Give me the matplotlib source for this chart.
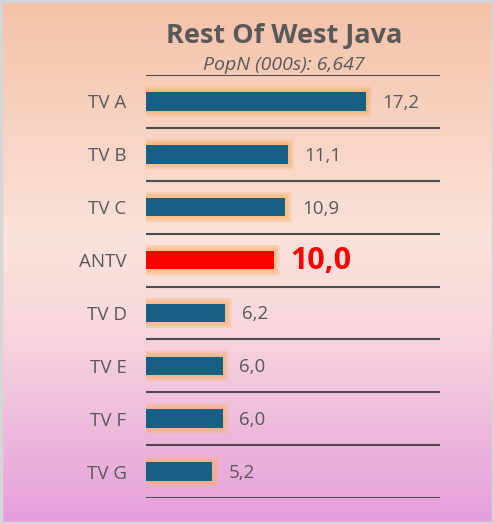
import numpy as np
import matplotlib.pyplot as plt
from matplotlib.colors import LinearSegmentedColormap
from matplotlib.patches import Rectangle

channels = ['TV A', 'TV B', 'TV C', 'ANTV', 'TV D', 'TV E', 'TV F', 'TV G']
values = [17.2, 11.1, 10.9, 10.0, 6.2, 6.0, 6.0, 5.2]
highlight = 'ANTV'
title = 'Rest Of West Java'
subtitle = 'PopN (000s): 6,647'

plt.rcParams['font.family'] = ['Open Sans', 'DejaVu Sans']

fig = plt.figure(figsize=(4.94, 5.24), dpi=100)

# gradient background
bg = fig.add_axes([0, 0, 1, 1], zorder=-10)
cmap = LinearSegmentedColormap.from_list(
    'bg', [(0.0, '#F4C2A8'), (0.45, '#FBE2DA'), (0.62, '#F8D8DE'), (1.0, '#E59FDB')])
grad = np.linspace(0, 1, 256).reshape(-1, 1)
bg.imshow(grad, aspect='auto', cmap=cmap, extent=[0, 1, 1, 0])
bg.set_xlim(0, 1)
bg.set_ylim(1, 0)
bg.axis('off')
fig.patches.append(Rectangle((0.002, 0.002), 0.996, 0.996, transform=fig.transFigure,
                             fill=False, edgecolor='#D6D6D6', lw=2.5))

ax = fig.add_axes([146 / 494, 26 / 524, 294 / 494, 423 / 524])
ax.patch.set_alpha(0)
xmax = 23.0
ax.set_xlim(0, xmax)
ax.set_ylim(len(channels) - 0.5, -0.5)

y = np.arange(len(channels))
colors = ['#FF0000' if c == highlight else '#175F83' for c in channels]
bh = 0.35

# soft orange glow behind bars
px_x = xmax / 294
px_y = len(channels) / 423
for k in range(7, 0, -1):
    pad = k * 0.9
    ax.barh(y, [v + pad * px_x for v in values], height=bh + 2 * pad * px_y,
            color='#F9B26A', alpha=0.16, lw=0, zorder=1)

ax.barh(y, values, height=bh, color=colors, zorder=3)

for yi, v, c in zip(y, values, channels):
    txt = f'{v:.1f}'.replace('.', ',')
    if c == highlight:
        ax.annotate(txt, (v, yi), xytext=(12, -1), textcoords='offset points',
                    va='center', ha='left', fontsize=22, fontweight='bold', color='#FF0000')
    else:
        ax.annotate(txt, (v, yi), xytext=(12, -1), textcoords='offset points',
                    va='center', ha='left', fontsize=13.5, color='#595959')

for i in range(len(channels) + 1):
    ax.axhline(i - 0.5, color='#4D4D4D', lw=1.5, zorder=4)

ax.set_yticks(y)
ax.set_yticklabels(channels, fontsize=13.5, color='#595959')
ax.tick_params(axis='y', length=0, pad=14)
ax.set_xticks([])
for s in ax.spines.values():
    s.set_visible(False)

fig.text(284 / 494, 1 - 36 / 524, title, ha='center', va='center',
         fontsize=19.5, fontweight='bold', color='#595959')
fig.text(284 / 494, 1 - 65 / 524, subtitle, ha='center', va='center',
         fontsize=14, style='italic', color='#595959')

fig.savefig('out.png', dpi=100)
